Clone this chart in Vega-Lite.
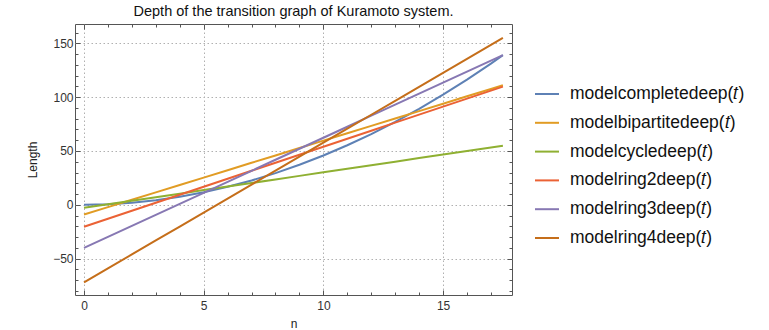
{
  "$schema": "https://vega.github.io/schema/vega-lite/v6.json",
  "autosize": {"type": "none"},
  "padding": {"left": 75, "top": 24, "right": 257, "bottom": 35},
  "width": 437,
  "height": 271,
  "config": {
    "font": "Liberation Sans",
    "view": {"stroke": "#555555", "strokeWidth": 1}
  },
  "title": {"text": "Depth of the transition graph of Kuramoto system.", "fontSize": 14.5, "fontWeight": "normal", "color": "#111111", "anchor": "middle", "offset": 4, "font": "Liberation Sans"},
  "data": {"values": [
    {"n":0,"s":"modelcompletedeep(𝑡)","v":0},{"n":1,"s":"modelcompletedeep(𝑡)","v":0.55},{"n":2,"s":"modelcompletedeep(𝑡)","v":1.99},{"n":3,"s":"modelcompletedeep(𝑡)","v":4.33},{"n":4,"s":"modelcompletedeep(𝑡)","v":7.57},{"n":5,"s":"modelcompletedeep(𝑡)","v":11.7},{"n":6,"s":"modelcompletedeep(𝑡)","v":16.73},{"n":7,"s":"modelcompletedeep(𝑡)","v":22.65},{"n":8,"s":"modelcompletedeep(𝑡)","v":29.47},{"n":9,"s":"modelcompletedeep(𝑡)","v":37.19},{"n":10,"s":"modelcompletedeep(𝑡)","v":45.8},{"n":11,"s":"modelcompletedeep(𝑡)","v":55.31},{"n":12,"s":"modelcompletedeep(𝑡)","v":65.71},{"n":13,"s":"modelcompletedeep(𝑡)","v":77.01},{"n":14,"s":"modelcompletedeep(𝑡)","v":89.21},{"n":15,"s":"modelcompletedeep(𝑡)","v":102.3},{"n":16,"s":"modelcompletedeep(𝑡)","v":116.29},{"n":17,"s":"modelcompletedeep(𝑡)","v":131.17},{"n":17.5,"s":"modelcompletedeep(𝑡)","v":138.95},
    {"n":0,"s":"modelbipartitedeep(𝑡)","v":-9},{"n":1,"s":"modelbipartitedeep(𝑡)","v":-2.14},{"n":2,"s":"modelbipartitedeep(𝑡)","v":4.72},{"n":3,"s":"modelbipartitedeep(𝑡)","v":11.58},{"n":4,"s":"modelbipartitedeep(𝑡)","v":18.44},{"n":5,"s":"modelbipartitedeep(𝑡)","v":25.3},{"n":6,"s":"modelbipartitedeep(𝑡)","v":32.16},{"n":7,"s":"modelbipartitedeep(𝑡)","v":39.02},{"n":8,"s":"modelbipartitedeep(𝑡)","v":45.88},{"n":9,"s":"modelbipartitedeep(𝑡)","v":52.74},{"n":10,"s":"modelbipartitedeep(𝑡)","v":59.6},{"n":11,"s":"modelbipartitedeep(𝑡)","v":66.46},{"n":12,"s":"modelbipartitedeep(𝑡)","v":73.32},{"n":13,"s":"modelbipartitedeep(𝑡)","v":80.18},{"n":14,"s":"modelbipartitedeep(𝑡)","v":87.04},{"n":15,"s":"modelbipartitedeep(𝑡)","v":93.9},{"n":16,"s":"modelbipartitedeep(𝑡)","v":100.76},{"n":17,"s":"modelbipartitedeep(𝑡)","v":107.62},{"n":17.5,"s":"modelbipartitedeep(𝑡)","v":111.05},
    {"n":0,"s":"modelcycledeep(𝑡)","v":-2.8},{"n":1,"s":"modelcycledeep(𝑡)","v":0.5},{"n":2,"s":"modelcycledeep(𝑡)","v":3.8},{"n":3,"s":"modelcycledeep(𝑡)","v":7.1},{"n":4,"s":"modelcycledeep(𝑡)","v":10.4},{"n":5,"s":"modelcycledeep(𝑡)","v":13.7},{"n":6,"s":"modelcycledeep(𝑡)","v":17.0},{"n":7,"s":"modelcycledeep(𝑡)","v":20.3},{"n":8,"s":"modelcycledeep(𝑡)","v":23.6},{"n":9,"s":"modelcycledeep(𝑡)","v":26.9},{"n":10,"s":"modelcycledeep(𝑡)","v":30.2},{"n":11,"s":"modelcycledeep(𝑡)","v":33.5},{"n":12,"s":"modelcycledeep(𝑡)","v":36.8},{"n":13,"s":"modelcycledeep(𝑡)","v":40.1},{"n":14,"s":"modelcycledeep(𝑡)","v":43.4},{"n":15,"s":"modelcycledeep(𝑡)","v":46.7},{"n":16,"s":"modelcycledeep(𝑡)","v":50.0},{"n":17,"s":"modelcycledeep(𝑡)","v":53.3},{"n":17.5,"s":"modelcycledeep(𝑡)","v":54.95},
    {"n":0,"s":"modelring2deep(𝑡)","v":-20.3},{"n":1,"s":"modelring2deep(𝑡)","v":-12.87},{"n":2,"s":"modelring2deep(𝑡)","v":-5.44},{"n":3,"s":"modelring2deep(𝑡)","v":1.99},{"n":4,"s":"modelring2deep(𝑡)","v":9.42},{"n":5,"s":"modelring2deep(𝑡)","v":16.85},{"n":6,"s":"modelring2deep(𝑡)","v":24.28},{"n":7,"s":"modelring2deep(𝑡)","v":31.71},{"n":8,"s":"modelring2deep(𝑡)","v":39.14},{"n":9,"s":"modelring2deep(𝑡)","v":46.57},{"n":10,"s":"modelring2deep(𝑡)","v":54.0},{"n":11,"s":"modelring2deep(𝑡)","v":61.43},{"n":12,"s":"modelring2deep(𝑡)","v":68.86},{"n":13,"s":"modelring2deep(𝑡)","v":76.29},{"n":14,"s":"modelring2deep(𝑡)","v":83.72},{"n":15,"s":"modelring2deep(𝑡)","v":91.15},{"n":16,"s":"modelring2deep(𝑡)","v":98.58},{"n":17,"s":"modelring2deep(𝑡)","v":106.01},{"n":17.5,"s":"modelring2deep(𝑡)","v":109.73},
    {"n":0,"s":"modelring3deep(𝑡)","v":-40},{"n":1,"s":"modelring3deep(𝑡)","v":-29.77},{"n":2,"s":"modelring3deep(𝑡)","v":-19.54},{"n":3,"s":"modelring3deep(𝑡)","v":-9.31},{"n":4,"s":"modelring3deep(𝑡)","v":0.92},{"n":5,"s":"modelring3deep(𝑡)","v":11.15},{"n":6,"s":"modelring3deep(𝑡)","v":21.38},{"n":7,"s":"modelring3deep(𝑡)","v":31.61},{"n":8,"s":"modelring3deep(𝑡)","v":41.84},{"n":9,"s":"modelring3deep(𝑡)","v":52.07},{"n":10,"s":"modelring3deep(𝑡)","v":62.3},{"n":11,"s":"modelring3deep(𝑡)","v":72.53},{"n":12,"s":"modelring3deep(𝑡)","v":82.76},{"n":13,"s":"modelring3deep(𝑡)","v":92.99},{"n":14,"s":"modelring3deep(𝑡)","v":103.22},{"n":15,"s":"modelring3deep(𝑡)","v":113.45},{"n":16,"s":"modelring3deep(𝑡)","v":123.68},{"n":17,"s":"modelring3deep(𝑡)","v":133.91},{"n":17.5,"s":"modelring3deep(𝑡)","v":139.03},
    {"n":0,"s":"modelring4deep(𝑡)","v":-72},{"n":1,"s":"modelring4deep(𝑡)","v":-59.03},{"n":2,"s":"modelring4deep(𝑡)","v":-46.06},{"n":3,"s":"modelring4deep(𝑡)","v":-33.09},{"n":4,"s":"modelring4deep(𝑡)","v":-20.12},{"n":5,"s":"modelring4deep(𝑡)","v":-7.15},{"n":6,"s":"modelring4deep(𝑡)","v":5.82},{"n":7,"s":"modelring4deep(𝑡)","v":18.79},{"n":8,"s":"modelring4deep(𝑡)","v":31.76},{"n":9,"s":"modelring4deep(𝑡)","v":44.73},{"n":10,"s":"modelring4deep(𝑡)","v":57.7},{"n":11,"s":"modelring4deep(𝑡)","v":70.67},{"n":12,"s":"modelring4deep(𝑡)","v":83.64},{"n":13,"s":"modelring4deep(𝑡)","v":96.61},{"n":14,"s":"modelring4deep(𝑡)","v":109.58},{"n":15,"s":"modelring4deep(𝑡)","v":122.55},{"n":16,"s":"modelring4deep(𝑡)","v":135.52},{"n":17,"s":"modelring4deep(𝑡)","v":148.49},{"n":17.5,"s":"modelring4deep(𝑡)","v":154.98}
  ]},
  "layer": [
    {
      "mark": {"type": "line", "strokeWidth": 2, "clip": true},
      "encoding": {
        "x": {"field": "n", "type": "quantitative", "title": "n",
          "scale": {"domain": [-0.376, 17.88], "nice": false, "zero": false},
          "axis": {"orient": "bottom", "values": [0,1,2,3,4,5,6,7,8,9,10,11,12,13,14,15,16,17],
            "labelExpr": "datum.value % 5 === 0 ? datum.label : ''",
            "tickSize": {"condition": {"test": "datum.value % 5 === 0", "value": -5}, "value": -3},
            "tickColor": "#555555", "domain": false,
            "grid": true, "gridColor": "#b0b0b0", "gridDash": [1.5, 2.5], "gridWidth": 1,
            "gridOpacity": {"condition": {"test": "datum.value % 5 === 0", "value": 1}, "value": 0},
            "labelFontSize": 12, "labelColor": "#333333", "labelPadding": 10, "labelFont": "Liberation Sans",
            "titleFontSize": 12, "titleFontWeight": "normal", "titleColor": "#222222", "titlePadding": 7, "titleFont": "Liberation Sans"}},
        "y": {"field": "v", "type": "quantitative", "title": "Length",
          "scale": {"domain": [-83.7, 167.9], "nice": false, "zero": false},
          "axis": {"orient": "left", "values": [-80,-70,-60,-50,-40,-30,-20,-10,0,10,20,30,40,50,60,70,80,90,100,110,120,130,140,150,160],
            "labelExpr": "datum.value % 50 === 0 ? datum.label : ''",
            "tickSize": {"condition": {"test": "datum.value % 50 === 0", "value": -5}, "value": -3},
            "tickColor": "#555555", "domain": false,
            "grid": true, "gridColor": "#b0b0b0", "gridDash": [1.5, 2.5], "gridWidth": 1,
            "gridOpacity": {"condition": {"test": "datum.value % 50 === 0", "value": 1}, "value": 0},
            "labelFontSize": 12, "labelColor": "#333333", "labelPadding": 7, "labelFont": "Liberation Sans",
            "titleFontSize": 12, "titleFontWeight": "normal", "titleColor": "#222222", "titlePadding": 13, "titleFont": "Liberation Sans"}},
        "color": {"field": "s", "type": "nominal",
          "scale": {"domain": ["modelcompletedeep(𝑡)","modelbipartitedeep(𝑡)","modelcycledeep(𝑡)","modelring2deep(𝑡)","modelring3deep(𝑡)","modelring4deep(𝑡)"],
            "range": ["#5E81B5","#E19C24","#8FB032","#EB6235","#8778B3","#C56E1A"]},
          "legend": {"orient": "none", "legendX": 459, "legendY": 57, "title": null,
            "symbolType": "stroke", "symbolSize": 576, "symbolStrokeWidth": 2,
            "labelFontSize": 17.5, "labelColor": "#111111", "labelFont": "Liberation Sans", "labelOffset": 10, "rowPadding": 6.8, "labelLimit": 300}}
      }
    },
    {
      "mark": {"type": "line", "strokeOpacity": 0},
      "encoding": {
        "x": {"field": "n", "type": "quantitative",
          "axis": {"orient": "top", "values": [0,1,2,3,4,5,6,7,8,9,10,11,12,13,14,15,16,17], "labels": false, "title": null, "grid": false, "domain": false,
            "tickColor": "#555555",
            "tickSize": {"condition": {"test": "datum.value % 5 === 0", "value": -5}, "value": -3}}},
        "y": {"field": "v", "type": "quantitative",
          "axis": {"orient": "right", "values": [-80,-70,-60,-50,-40,-30,-20,-10,0,10,20,30,40,50,60,70,80,90,100,110,120,130,140,150,160], "labels": false, "title": null, "grid": false, "domain": false,
            "tickColor": "#555555",
            "tickSize": {"condition": {"test": "datum.value % 50 === 0", "value": -5}, "value": -3}}}
      }
    }
  ],
  "resolve": {"axis": {"x": "independent", "y": "independent"}}
}
